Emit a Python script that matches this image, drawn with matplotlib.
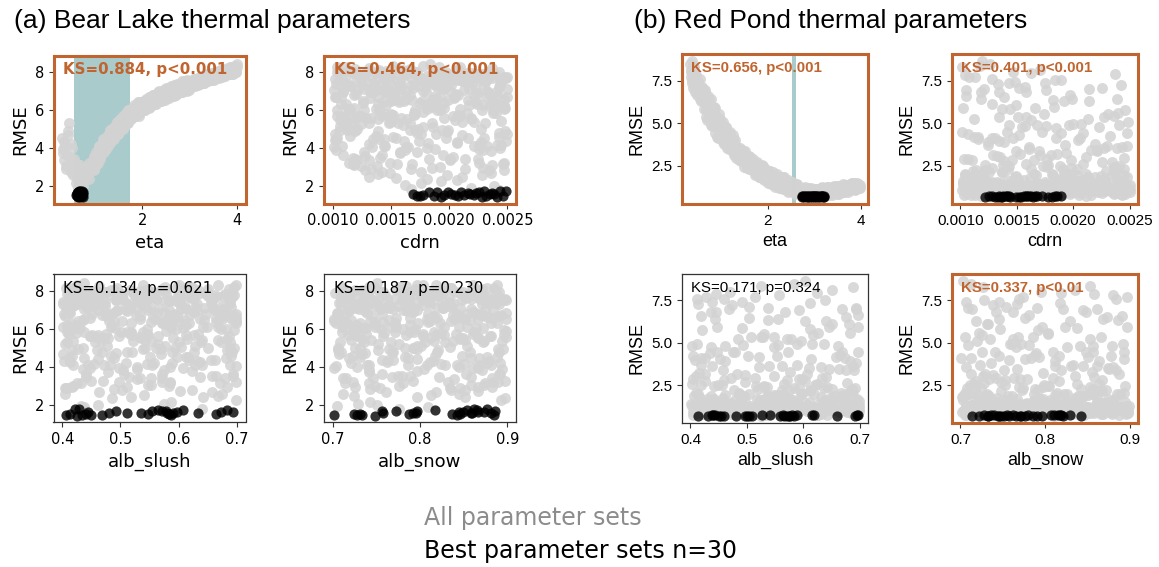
import numpy as np
import matplotlib
matplotlib.use("Agg")
import matplotlib.pyplot as plt

# ---------------- Bear Lake: all parameter sets (eta x100, RMSE x100, cdrn x1e5, alb x1000)
bear_eta = [30,31,33,35,37,39,41,43,46,49,52,54,
    56,58,60,62,64,66,68,70,73,75,78,81,84,87,90,94,
    96,97,99,100,102,103,105,106,108,109,
    111,112,114,115,117,118,120,121,123,124,
    126,127,129,131,132,134,135,137,138,140,
    141,143,144,146,147,149,151,152,154,155,
    157,158,160,162,163,165,166,168,169,171,
    173,174,176,177,179,180,182,184,185,187,
    186,188,189,191,193,194,196,197,199,200,
    202,204,205,207,210,212,213,215,218,220,
    221,223,226,228,229,231,234,236,237,240,
    241,243,245,247,249,252,253,255,258,260,
    261,263,266,267,269,272,274,275,277,280,
    281,283,286,288,289,292,293,295,298,300,
    302,303,305,308,310,311,313,316,317,319,
    321,323,325,328,329,331,334,336,337,339,
    342,343,345,347,349,351,354,355,357,360,
    361,363,366,367,370,372,373,375,378,379,
    381,384,386,387,389,392,393,395,397,399,
    400,396]
bear_rmse = [452,395,338,410,288,362,470,530,315,420,258,345,
    265,215,318,190,242,178,285,205,232,268,248,296,270,322,295,335,
    340,290,338,320,379,344,320,380,350,406,
    387,362,413,392,447,380,426,447,414,464,
    435,411,465,492,437,475,457,498,451,498,
    486,527,478,521,475,540,510,554,499,534,
    517,559,510,559,544,583,533,569,533,585,
    559,603,551,584,564,610,582,608,567,608,
    582,628,580,609,578,630,603,641,600,628,
    645,601,632,658,619,649,610,671,637,666,
    629,679,656,631,677,653,697,651,680,650,
    697,669,708,655,689,671,714,687,710,672,
    726,685,713,677,726,702,737,691,720,699,
    740,694,735,715,754,709,736,703,752,731,
    753,721,746,732,766,727,758,745,770,739,
    768,740,779,753,767,744,782,756,777,752,
    791,760,781,757,792,775,802,767,795,775,
    804,769,800,783,815,781,802,779,819,794,
    818,790,827,803,819,793,830,803,831,802,
    842,812]
bear_cdrn = [104,188,121,233,167,142,211,109,246,131,198,225,
    139,176,117,219,154,243,128,162,207,236,131,185,149,114,229,201,
    183,214,131,247,158,119,226,172,141,101,
    236,195,108,162,103,127,207,144,241,115,
    174,221,137,105,249,189,152,112,230,166,
    198,124,243,160,102,211,178,139,227,148,
    106,219,186,133,245,170,117,203,156,238,
    129,192,164,215,110,248,145,181,122,209,
    171,235,113,196,150,224,104,185,140,217,
    143,228,107,186,239,161,118,204,175,132,
    247,153,190,111,221,168,135,199,242,126,
    180,102,213,157,234,139,196,120,250,163,
    116,206,148,231,173,109,187,224,136,201,
    159,240,125,194,146,217,103,178,232,151,
    211,134,245,167,121,189,226,142,107,198,
    176,113,222,155,237,130,205,184,149,244,
    128,193,161,209,114,250,171,138,219,186,
    235,147,104,202,166,123,243,181,156,215,
    119,228,191,140,208,170,111,237,152,197,
    184,131]
bear_alb_slush = [612,447,533,688,405,571,492,639,426,558,675,514,
    463,587,698,432,519,641,408,575,486,657,541,419,603,470,684,528,
    552,417,679,498,623,441,586,505,664,472,
    528,693,455,607,412,575,637,489,546,401,
    618,482,569,427,655,511,690,436,597,543,
    459,673,520,404,588,641,477,532,695,418,
    565,497,628,448,683,409,553,612,466,579,
    686,424,591,538,461,649,512,402,627,484,
    437,606,519,668,423,574,491,698,545,415,
    643,429,571,698,486,534,411,619,552,475,
    588,452,671,518,403,636,495,559,684,437,
    509,697,443,582,626,468,541,412,659,597,
    421,563,690,478,537,605,449,672,514,583,
    656,495,433,611,548,407,689,526,461,632,
    539,674,596,426,503,658,448,577,619,402,
    602,441,525,687,464,584,647,418,556,493,
    476,621,408,561,692,445,517,665,431,599,
    569,432,648,503,419,679,547,482,615,458,
    695,521,463,634,576,413,601,544,667,489,
    438,624]
bear_alb_snow = [783,861,712,829,754,892,737,806,874,721,845,768,
    818,743,889,705,852,776,834,729,897,761,813,748,866,792,725,839,
    746,883,715,832,796,859,723,871,779,808,
    894,757,824,702,868,741,812,786,850,733,
    769,842,707,895,763,819,848,731,877,792,
    821,708,857,776,890,744,801,867,725,838,
    752,880,797,729,846,711,873,784,816,899,
    803,738,866,789,718,854,771,827,896,749,
    862,716,793,845,759,888,735,811,780,704,
    857,724,798,881,712,839,767,893,748,815,
    731,866,789,823,756,702,874,808,739,851,
    884,745,819,773,861,706,836,792,727,870,
    765,899,728,842,803,754,887,719,828,781,
    812,737,876,761,897,826,744,858,785,709,
    848,775,713,891,806,733,869,752,822,795,
    718,833,868,787,742,880,809,771,853,736,
    891,762,825,710,846,799,734,877,758,817,
    777,855,741,804,885,721,794,862,711,840,
    829,703,784,869,747,813,888,726,796,860,
    751,835]

# Bear Lake: second batch of parameter sets
bear2_eta = [32,34,38,42,45,48,51,53,
    57,61,63,67,71,74,77,80,83,86,89,92,
    95,98,101,104,107,110,113,116,119,122,
    125,128,130,133,136,139,142,145,148,150,
    153,156,159,161,164,167,170,172,175,178,
    181,183,186,189,192,195,198,96,100,105,
    109,113,118,122,127,131,136,140,145,149,
    154,158,163,167,172,176,181,185,190,194,
    199,102,111,120,129,138,147,156,165,174,
    183,192,197,115,134,152,171,188,108,143,
    201,203,206,208,209,211,214,216,217,219,
    222,224,225,227,230,232,233,235,238,239,
    242,244,246,248,250,251,254,256,257,259,
    262,264,265,268,270,271,273,276,278,279,
    282,284,285,287,290,291,294,296,297,299,
    301,304,306,307,309,312,314,315,318,320,
    322,324,326,327,330,332,333,335,338,340,
    341,344,346,348,350,352,353,356,358,359,
    362,364,365,368,369,371,374,376,377,380,
    382,383,385,388,390,391,394,396,398,400]
bear2_rmse = [372,430,305,488,352,275,398,322,
    292,246,185,312,226,198,275,258,305,238,283,318,
    298,359,313,361,406,345,410,401,442,397,
    451,431,493,457,497,447,497,533,489,532,
    492,539,571,530,573,531,603,559,577,608,
    567,627,591,620,570,621,641,285,348,341,
    408,392,388,447,453,425,503,475,540,493,
    532,499,573,550,599,560,600,569,641,605,
    635,315,418,407,455,508,475,554,544,584,
    569,641,608,417,437,549,551,605,409,477,
    603,650,599,640,654,628,668,618,658,634,
    678,638,659,630,681,674,646,700,670,648,
    694,653,704,675,716,669,697,663,719,707,
    677,721,690,734,707,680,734,706,733,696,
    731,696,752,709,734,706,757,729,753,708,
    751,721,750,731,764,730,753,766,733,764,
    742,776,752,772,744,771,782,756,790,766,
    781,758,795,773,792,761,788,802,775,801,
    776,807,785,813,776,799,812,785,811,794,
    820,792,811,828,793,822,806,832,801,829]
bear2_cdrn = [158,227,138,119,203,176,244,149,
    133,211,167,118,193,239,142,228,124,181,247,155,
    192,128,237,109,163,214,145,181,102,226,
    154,207,118,243,171,135,199,111,248,166,
    139,221,104,185,152,231,127,196,170,113,
    209,146,178,241,124,188,157,234,117,201,
    165,229,103,140,216,182,121,250,149,194,
    131,173,208,106,238,159,190,142,223,115,
    182,168,245,134,197,112,176,219,151,240,
    107,184,137,226,161,205,119,247,144,172,
    171,238,114,196,152,229,103,185,247,139,
    208,126,163,241,118,192,150,233,107,177,
    145,216,101,188,169,250,132,204,159,121,
    236,180,147,112,223,166,198,137,244,109,
    190,154,231,127,202,143,174,115,218,161,
    105,243,183,136,211,158,124,195,230,168,
    220,133,176,249,110,187,148,214,162,102,
    157,206,119,226,142,181,239,129,199,172,
    247,113,193,151,234,106,167,212,140,185,
    131,224,160,104,189,237,146,178,117,209]
bear2_alb_slush = [478,631,552,417,694,503,586,449,
    512,668,437,585,699,461,623,404,547,642,489,571,
    583,441,672,507,419,636,554,698,462,528,
    617,403,569,484,651,437,593,522,684,456,
    538,667,412,601,475,689,431,564,519,642,
    452,578,695,423,546,613,489,407,657,571,
    629,497,436,682,551,414,605,468,543,688,
    409,562,634,479,596,448,673,518,427,587,
    665,433,509,641,416,576,692,458,614,501,
    548,693,421,589,662,472,535,608,444,626,
    426,592,681,503,447,618,534,409,665,571,
    647,481,556,698,413,527,609,462,587,435,
    512,674,438,593,629,405,548,686,474,551,
    698,457,575,520,644,488,416,612,539,663,
    401,631,493,566,422,677,545,448,604,517,
    586,419,658,471,535,603,441,692,508,627,
    473,695,529,412,584,651,496,561,437,620,
    633,505,447,676,556,428,600,483,689,542,
    418,572,614,494,663,533,407,579,651,466,
    598,452,686,538,473,622,577,425,545,699]
bear2_alb_snow = [742,815,873,706,789,852,728,897,
    867,724,809,781,893,751,836,712,858,796,743,884,
    776,853,714,891,739,822,868,704,797,845,
    731,879,764,817,706,858,783,894,752,829,
    889,721,841,767,803,736,872,758,824,711,
    818,748,896,727,861,789,713,846,775,883,
    742,866,805,719,888,762,834,709,851,796,
    872,793,738,849,716,881,755,827,702,864,
    809,741,877,786,723,854,769,898,733,816,
    724,836,772,892,757,811,846,729,881,768,
    736,867,794,712,848,771,889,727,819,758,
    853,743,816,881,705,838,764,796,872,721,
    785,898,730,809,762,843,717,877,749,826,
    714,829,862,751,793,706,881,769,838,791,
    871,718,803,846,739,785,858,724,899,765,
    747,836,779,725,868,812,743,891,707,852,
    824,760,895,787,734,872,801,716,857,780,
    709,883,756,833,789,719,846,772,806,738,
    862,795,728,877,815,753,836,709,871,789,
    776,849,713,804,887,741,823,861,732,818]

# Bear Lake: best 30 parameter sets
bear_best_eta = [59,60,61,62,62,63,63,64,64,65,65,66,66,67,67,68,68,69,69,70,70,71,71,72,72,73,73,74,61,66]
bear_best_rmse = [152,145,163,148,171,157,142,166,150,174,155,147,168,160,144,172,153,165,149,158,170,146,162,151,175,156,143,167,159,154]
bear_best_cdrn = [213,172,237,187,226,169,241,199,175,230,205,246,183,218,193,249,178,223,208,239,190,232,216,196,244,202,228,210,235,221]
bear_best_alb_slush = [547,406,598,441,683,512,425,572,664,429,590,469,555,693,434,607,480,578,414,633,564,449,673,584,422,535,587,492,445,580]
bear_best_alb_snow = [846,702,873,731,817,858,748,886,724,862,792,842,772,867,728,854,881,757,837,795,865,734,849,787,877,758,885,796,845,860]

# ---------------- Red Pond: all parameter sets
red_eta = [34,35,36,37,38,39,40,41,42,43,44,45,47,48,50,52,54,56,58,60,
    61,63,64,66,68,69,71,73,74,76,
    78,80,81,83,85,86,88,90,92,93,
    95,97,98,100,102,104,105,107,109,110,
    112,114,116,117,119,121,122,124,126,128,
    129,131,133,134,136,138,140,141,143,145,
    146,148,150,152,153,155,157,158,160,162,
    164,165,167,169,170,172,174,176,177,179,
    181,183,185,188,190,192,194,197,199,201,
    203,206,208,210,212,215,217,219,221,224,
    226,228,230,233,235,237,239,242,244,246,
    248,251,253,255,257,260,262,264,266,269,
    271,272,274,276,278,280,282,283,285,287,
    289,291,293,294,296,298,300,302,304,305,
    307,309,311,313,315,316,318,320,322,324,
    326,327,329,331,333,335,337,338,340,342,
    344,346,348,349,351,353,355,357,359,360,
    362,364,366,368,370,371,373,375,377,379,
    381,382,384,386,388,390,392,393,395,397]
red_rmse = [845,772,812,738,866,790,705,828,756,684,795,722,771,667,742,693,760,628,712,655,
    699,583,637,697,577,521,612,642,535,556,
    643,482,560,586,494,591,443,534,479,411,
    491,524,425,492,447,510,390,414,443,476,
    356,415,438,372,446,344,398,365,406,312,
    363,403,314,362,321,282,355,319,277,345,
    288,317,244,337,283,253,302,284,232,300,
    250,273,227,291,247,199,264,220,271,200,
    237,188,251,201,252,165,200,217,168,198,
    223,164,194,142,202,165,141,188,166,121,
    188,144,165,132,184,116,148,162,130,103,
    148,110,157,121,97,130,102,139,110,85,
    97,122,77,109,87,124,73,102,114,82,
    109,90,120,78,97,112,74,102,85,117,
    89,73,111,97,121,82,107,96,120,79,
    105,128,89,114,84,122,100,81,114,132,
    99,124,93,111,132,87,123,111,133,101,
    121,97,140,112,133,109,141,123,107,140,
    123,150,114,136,111,133,151,125,144,119]
red_cdrn = [126,108,171,143,119,237,152,101,184,134,163,242,113,197,148,176,128,214,157,139,
    214,137,182,105,246,163,128,199,151,231,
    118,176,240,144,207,102,189,158,223,131,
    196,112,233,168,141,249,124,185,209,155,
    239,147,107,193,172,221,134,248,116,180,
    161,204,129,243,153,110,227,186,139,216,
    103,171,236,149,198,122,211,165,245,135,
    188,226,114,177,143,203,158,121,234,192,
    128,219,173,104,241,156,197,137,228,182,
    111,206,149,247,165,122,190,233,141,178,
    213,102,186,159,238,131,201,119,169,224,
    145,249,116,194,162,230,107,177,211,135,
    166,232,109,195,143,247,124,178,211,152,
    101,189,227,137,172,243,118,205,160,221,
    184,129,238,147,199,113,170,250,134,216,
    155,208,106,183,236,141,192,121,229,163,
    245,132,176,114,203,157,225,188,103,218,
    139,197,250,126,168,212,149,235,110,181,
    206,117,161,240,144,193,127,222,175,153]
red_alb_slush = [583,427,652,491,604,446,537,689,412,568,625,473,515,697,438,592,459,641,504,676,
    468,612,537,694,421,579,652,443,508,627,
    556,402,683,491,615,447,573,528,661,419,
    637,484,553,411,669,596,462,522,698,437,
    521,658,434,589,476,646,408,562,613,497,
    688,453,606,539,416,572,631,482,425,664,
    592,426,517,676,459,621,548,405,583,641,
    449,603,686,472,531,414,677,563,496,619,
    531,674,418,597,456,638,503,689,442,566,
    612,479,548,401,667,523,584,437,695,462,
    406,591,655,488,537,421,679,574,451,628,
    559,432,699,514,606,467,643,413,582,497,
    452,617,534,688,409,571,643,487,596,423,
    661,508,439,582,697,464,625,546,415,673,
    526,404,653,478,609,561,431,687,497,632,
    415,589,542,668,447,604,519,694,462,577,
    637,482,411,553,679,428,598,506,645,471,
    569,699,443,622,492,536,411,584,656,459,
    684,521,593,436,648,475,612,403,558,629]
red_alb_snow = [712,774,836,745,703,858,791,727,884,762,819,738,897,781,706,845,769,829,754,873,
    821,747,886,714,792,853,731,869,768,803,
    746,879,722,838,761,897,809,705,857,783,
    892,735,816,772,848,719,864,793,741,826,
    707,851,789,833,726,876,758,812,894,739,
    862,776,713,845,798,753,881,729,817,767,
    734,888,805,752,867,711,836,779,724,858,
    799,718,843,763,895,787,728,872,748,823,
    769,842,718,885,753,806,731,867,794,709,
    856,737,812,776,893,722,839,761,874,748,
    715,829,787,862,703,851,742,818,897,772,
    827,758,881,713,799,846,726,869,781,834,
    813,742,887,726,858,774,705,836,791,869,
    734,854,797,879,718,821,762,893,745,807,
    881,756,709,843,785,866,731,819,752,896,
    768,825,877,711,802,748,861,729,838,783,
    721,889,752,816,767,898,739,847,805,716,
    851,737,794,869,713,828,776,744,884,801,
    796,862,723,758,831,707,874,815,739,849]

# Red Pond: second batch of parameter sets
red2_eta = [35,37,39,41,44,46,49,51,55,59,
    62,65,67,70,72,75,77,79,82,84,
    87,89,91,94,96,99,101,103,106,108,
    111,113,115,118,120,123,125,127,130,132,
    137,142,147,151,156,161,166,171,175,178,
    180,182,184,186,187,189,191,193,195,196,
    198,200,202,204,205,207,209,211,213,214,
    216,218,220,222,223,225,227,229,231,232,
    234,236,238,240,241,243,245,247,249,250,
    252,254,256,258,259,261,263,265,267,268,
    182,188,194,199,206,212,218,226,233,239,
    246,253,260,266,184,197,215,229,244,258,
    270,273,275,277,279,281,284,286,288,290,
    292,295,297,299,301,303,306,308,310,312,
    314,317,319,321,323,325,328,330,332,334,
    336,339,341,343,345,347,350,352,354,356,
    358,361,363,365,367,369,372,374,376,378,
    380,383,385,387,389,391,394,396,398,399,
    272,280,289,298,307,316,326,335,344,353,
    362,372,381,390,276,294,311,329,348,366]
red2_rmse = [802,751,836,728,704,785,682,737,645,701,
    628,684,536,609,660,525,591,488,536,594,
    482,545,421,495,553,413,445,488,379,447,
    474,392,411,350,420,365,431,327,372,295,
    339,292,337,287,240,307,240,256,205,259,
    230,185,246,199,257,180,221,197,234,173,
    213,150,195,172,219,147,177,203,153,187,
    128,163,201,137,171,147,186,121,171,143,
    186,127,148,112,163,136,100,147,116,158,
    103,134,113,144,87,117,145,92,127,104,
    233,193,234,161,182,216,153,176,115,148,
    112,153,109,121,184,225,167,136,168,109,
    108,79,120,89,100,71,113,93,121,84,
    101,75,106,89,115,81,103,94,114,75,
    98,124,85,110,80,117,94,106,77,118,
    101,127,89,114,97,133,88,114,127,97,
    123,105,142,98,117,137,98,127,118,142,
    113,138,126,149,113,134,147,126,141,122,
    120,93,73,105,85,121,102,84,123,103,
    121,107,148,112,98,108,80,124,104,120]
red2_cdrn = [147,189,117,133,226,104,158,175,239,121,
    192,118,227,149,105,213,166,241,134,183,
    157,236,112,200,174,128,248,143,219,101,
    185,139,206,161,116,230,152,194,124,245,
    170,107,221,146,198,132,239,178,113,209,
    203,116,177,245,138,162,229,104,191,151,
    125,218,167,109,236,143,195,181,132,248,
    159,102,211,186,121,239,148,173,227,113,
    197,232,135,164,107,222,180,146,250,128,
    214,156,119,188,242,131,170,207,103,176,
    142,225,163,111,199,137,244,184,153,216,
    106,175,230,149,192,123,208,161,239,134,
    118,205,163,237,142,184,109,226,151,197,
    174,131,248,156,212,103,189,139,231,167,
    222,146,181,114,243,160,127,201,178,135,
    107,193,238,153,122,216,170,249,137,186,
    160,228,112,199,144,176,234,125,207,150,
    240,133,187,102,219,165,148,204,117,229,
    183,124,211,158,246,139,172,105,194,221,
    143,236,168,110,203,129,190,155,245,115]
red2_alb_slush = [471,639,525,414,693,557,446,612,503,668,
    604,437,549,682,418,571,645,493,526,697,
    462,618,405,589,531,674,447,556,693,479,
    548,683,426,611,502,439,665,577,418,633,
    691,514,457,598,642,409,536,624,487,566,
    519,667,442,598,403,631,575,486,692,458,
    612,431,553,689,477,524,648,409,587,536,
    447,582,676,413,561,629,495,697,429,604,
    655,508,421,593,673,452,617,539,466,581,
    424,699,548,472,621,506,439,664,573,412,
    593,462,637,528,416,685,451,574,622,497,
    681,543,408,603,489,652,567,433,518,641,
    637,472,558,413,689,526,601,447,574,695,
    418,583,659,496,541,624,432,677,509,566,
    592,436,503,648,479,699,561,415,627,484,
    672,548,405,613,531,458,686,577,441,619,
    499,651,427,584,696,466,538,609,423,663,
    556,411,642,489,597,521,674,452,589,436,
    468,618,573,406,684,543,497,632,461,595,
    698,529,444,606,475,658,515,421,571,644]
red2_alb_snow = [795,728,853,767,709,881,742,818,776,862,
    718,849,786,733,891,762,824,709,866,797,
    841,725,878,759,804,713,857,781,736,893,
    766,812,701,874,745,831,788,856,723,809,
    884,742,819,771,853,727,798,864,705,838,
    857,731,804,889,716,842,773,826,708,861,
    748,879,719,835,792,868,727,814,895,756,
    812,703,856,744,883,779,839,712,798,871,
    734,826,787,898,753,817,706,864,741,809,
    893,765,842,721,808,735,881,759,824,784,
    717,851,774,836,702,865,797,743,887,758,
    828,759,896,713,846,788,724,873,767,819,
    765,832,716,879,748,811,893,729,857,784,
    842,707,869,791,734,822,761,898,713,846,
    726,886,753,808,839,771,702,864,797,731,
    873,742,819,768,892,715,851,786,739,828,
    803,859,738,884,722,795,844,711,876,752,
    735,817,899,746,785,863,727,834,769,881,
    891,759,824,704,853,778,741,867,718,812,
    748,876,795,839,712,826,763,887,731,804]

# Red Pond: best 30 parameter sets
red_best_eta = [273,275,277,279,281,283,284,286,288,290,292,293,295,297,299,300,302,304,305,307,309,311,312,314,316,318,319,321,322,296]
red_best_rmse = [71,70,73,69,72,74,70,68,71,73,70,72,69,74,71,70,73,68,72,71,70,74,69,72,71,73,70,69,72,71]
red_best_cdrn = [156,122,184,137,163,128,144,178,134,168,152,189,131,159,140,181,125,164,143,172,133,186,154,138,166,161,149,136,158,141]
red_best_alb_slush = [559,414,619,480,695,438,571,503,660,444,583,527,450,697,566,432,589,509,616,455,577,440,692,542,459,580,497,575,565,500]
red_best_alb_snow = [770,714,807,744,830,728,786,752,842,736,797,762,722,819,745,776,811,732,755,790,733,815,748,780,821,740,772,758,818,766]

# text
ks_bear = ["KS=0.884, p<0.001", "KS=0.464, p<0.001", "KS=0.134, p=0.621", "KS=0.187, p=0.230"]
sig_bear = [True, True, False, False]
ks_red = ["KS=0.656, p<0.001", "KS=0.401, p<0.001", "KS=0.171, p=0.324", "KS=0.337, p<0.01"]
sig_red = [True, True, False, True]
param_names = ["eta", "cdrn", "alb_slush", "alb_snow"]
cdrn_ticks = [0.0010, 0.0015, 0.0020, 0.0025]
cdrn_ticklabels = ["0.0010", "0.0015", "0.0020", "0.0025"]

ORANGE = "#c0652f"
GRAY = "#d3d3d3"
TEAL = "#aacbcb"

def to_arr(v, scale):
    return np.asarray(v, dtype=float) / scale

B = {
    "rmse": to_arr(bear_rmse + bear2_rmse, 100),
    "eta": to_arr(bear_eta + bear2_eta, 100),
    "cdrn": to_arr(bear_cdrn + bear2_cdrn, 1e5),
    "alb_slush": to_arr(bear_alb_slush + bear2_alb_slush, 1000),
    "alb_snow": to_arr(bear_alb_snow + bear2_alb_snow, 1000),
}
BB = {
    "rmse": to_arr(bear_best_rmse, 100),
    "eta": to_arr(bear_best_eta, 100), "cdrn": to_arr(bear_best_cdrn, 1e5),
    "alb_slush": to_arr(bear_best_alb_slush, 1000), "alb_snow": to_arr(bear_best_alb_snow, 1000),
}
R = {
    "rmse": to_arr(red_rmse + red2_rmse, 100),
    "eta": to_arr(red_eta + red2_eta, 100),
    "cdrn": to_arr(red_cdrn + red2_cdrn, 1e5),
    "alb_slush": to_arr(red_alb_slush + red2_alb_slush, 1000),
    "alb_snow": to_arr(red_alb_snow + red2_alb_snow, 1000),
}
RB = {
    "rmse": to_arr(red_best_rmse, 100),
    "eta": to_arr(red_best_eta, 100), "cdrn": to_arr(red_best_cdrn, 1e5),
    "alb_slush": to_arr(red_best_alb_slush, 1000), "alb_snow": to_arr(red_best_alb_snow, 1000),
}

W, H = 1159, 567
fig = plt.figure(figsize=(W / 100, H / 100), dpi=100)

def rect(l, t, r, b):
    return [l / W, 1 - b / H, (r - l) / W, (b - t) / H]

bear_rects = [rect(53.5, 55.5, 245.5, 203.5), rect(324, 55.5, 516, 203.5),
              rect(53.5, 274, 245.5, 422), rect(324, 274, 516, 422)]
red_rects = [rect(682, 54, 868, 204), rect(952, 54, 1138, 204),
             rect(682, 274, 868, 423), rect(952, 274, 1138, 423)]

xlims = {"eta_b": (0.11, 4.19), "eta_r": (0.16, 4.16), "cdrn": (0.000925, 0.002575),
         "alb_slush": (0.385, 0.715), "alb_snow": (0.69, 0.91)}
xticks = {"eta": ([2, 4], ["2", "4"]), "cdrn": (cdrn_ticks, cdrn_ticklabels),
          "alb_slush": ([0.4, 0.5, 0.6, 0.7], ["0.4", "0.5", "0.6", "0.7"]),
          "alb_snow": ([0.7, 0.8, 0.9], ["0.7", "0.8", "0.9"])}

def draw(rc, allp, best, pname, ks, sig, fam, lake):
    ax = fig.add_axes(rc)
    ax.scatter(allp[pname], allp["rmse"], s=62, color=GRAY, alpha=0.85, linewidths=0, zorder=2)
    ax.scatter(best[pname], best["rmse"], s=54, color="black", alpha=0.8, linewidths=0, zorder=3)
    if pname == "eta":
        if lake == "bear":
            ax.axvspan(0.55, 1.74, color=TEAL, lw=0, zorder=1)
        else:
            ax.axvspan(2.525, 2.61, color=TEAL, lw=0, zorder=1)
        ax.set_xlim(*xlims["eta_b" if lake == "bear" else "eta_r"])
    else:
        ax.set_xlim(*xlims[pname])
    if lake == "bear":
        ax.set_ylim(1.08, 8.88)
        ax.set_yticks([2, 4, 6, 8])
        ax.set_yticklabels(["2", "4", "6", "8"])
        tfs, lfs, kfs = 10.5, 13, 10.8
    else:
        ax.set_ylim(0.27, 9.06)
        ax.set_yticks([2.5, 5.0, 7.5])
        ax.set_yticklabels(["2.5", "5.0", "7.5"])
        tfs, lfs, kfs = 11, 13, 10.8
    tk, tl = xticks[pname]
    ax.set_xticks(tk)
    ax.set_xticklabels(tl)
    ax.tick_params(labelsize=tfs, labelfontfamily=fam, length=3.5, width=0.8, color="#333333")
    ax.set_xlabel(pname, fontsize=lfs, family=fam)
    ax.set_ylabel("RMSE", fontsize=lfs, family=fam)
    if sig:
        for sp in ax.spines.values():
            sp.set_color(ORANGE)
            sp.set_linewidth(2.2)
        ax.text(0.05, 0.955, ks, transform=ax.transAxes, ha="left", va="top",
                fontsize=kfs, fontweight="bold", color=ORANGE, family=fam, zorder=5)
    else:
        for sp in ax.spines.values():
            sp.set_color("#333333")
            sp.set_linewidth(0.9)
        ax.text(0.05, 0.955, ks, transform=ax.transAxes, ha="left", va="top",
                fontsize=kfs, color="black", family=fam, zorder=5)
    return ax

for i, p in enumerate(param_names):
    draw(bear_rects[i], B, BB, p, ks_bear[i], sig_bear[i], "DejaVu Sans", "bear")
    draw(red_rects[i], R, RB, p, ks_red[i], sig_red[i], "Liberation Sans", "red")

fig.text(14 / W, 1 - 28 / H, "(a) Bear Lake thermal parameters", fontsize=19,
         family="Liberation Sans", va="baseline", ha="left")
fig.text(634 / W, 1 - 28 / H, "(b) Red Pond thermal parameters", fontsize=19,
         family="Liberation Sans", va="baseline", ha="left")
fig.text(424 / W, 1 - 525 / H, "All parameter sets", fontsize=17, color="#8c8c8c",
         family="DejaVu Sans", va="baseline", ha="left")
fig.text(424 / W, 1 - 558 / H, "Best parameter sets n=30", fontsize=17, color="black",
         family="DejaVu Sans", va="baseline", ha="left")

fig.savefig("out.png", dpi=100)
